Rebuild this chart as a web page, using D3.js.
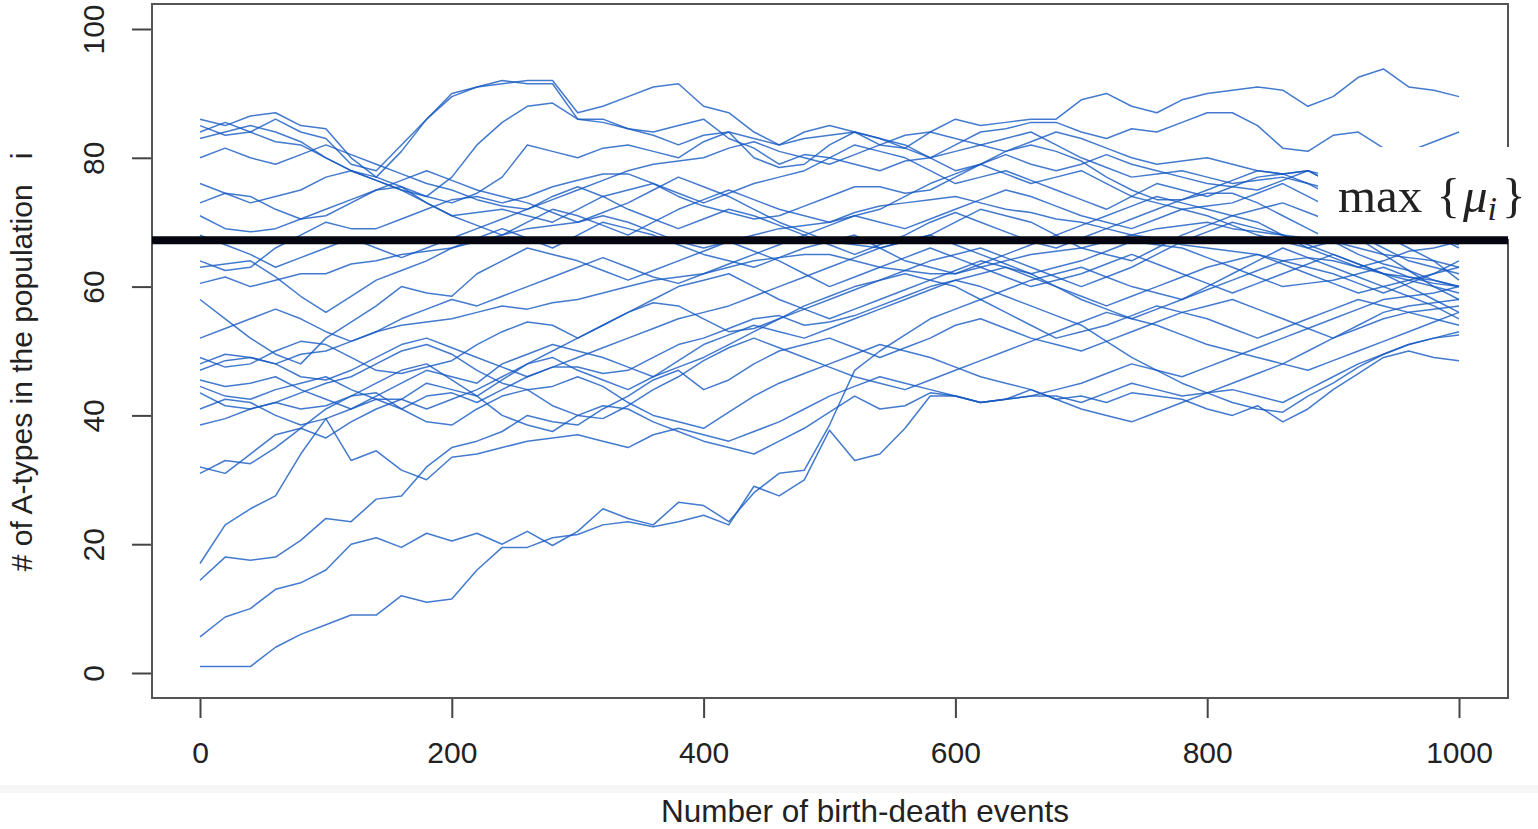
<!DOCTYPE html>
<html>
<head>
<meta charset="utf-8">
<script src="https://cdn.jsdelivr.net/npm/d3@7/dist/d3.min.js"></script>
<style>
  html, body { margin: 0; padding: 0; background: #fff; }
  svg { display: block; }
</style>
</head>
<body>
<svg id="chart" width="1538" height="829"></svg>
<script>
// ---------- data ----------
const events = [0,20,40,60,80,100,120,140,160,180,200,220,240,260,280,300,320,340,360,380,400,420,440,460,480,500,520,540,560,580,600,620,640,660,680,700,720,740,760,780,800,820,840,860,880,900,920,940,960,980,1000];

const run01 = [84,85.5,84,86,84,83,79,78,82,86,90,91,91.5,92,92,87,88,89.5,91,91.5,88,87,84,82,83,83.5,84,82,81.5,84,86,85,85.5,86,86,89,90,88,87,89,90,90.5,91,90.5,88,89.5,92.5,93.8,91,90.5,89.5];
const run02 = [85,83.5,84,82.5,82,80,78,77,81,86,89.5,91,92,91.5,91.5,86,85.5,84.5,84,85,86,83,81.5,79,80.5,80,79,78,79.5,80,82,84,84.5,85.5,85.5,84,83,84.5,84,85.5,87,87,85,81.5,81,83.5,84,81.5,81,82.5,84];
const run03 = [86,85,86.5,87,85,84.5,80,77,75.5,74,77,82,85.5,88,88.5,86,86,84.5,83.5,82,83.5,84,80,78.5,79,82,84,83,82,80,78,79,80.5,79,78,79,80.5,79,78,77,76,75.5,75,76.5,78,76,74,73,72,71,70];
const run04 = [83,84,85,84,82.5,80,78,76.5,75,74,73,74.5,77,82,81,80,81.5,82,81,80,82.5,84,83,82,84,85,84,83,81.5,80,81,82,83,84,82,80,78.5,77,77.5,78,77,76,76.5,77,76,75,74,73,71.5,70,68];
const run05 = [76,74.5,73,74,75,77,78,76.5,75,73,71,71.5,72,71,70,72,74,75,76,74.5,73,74.5,76,77,78,80,82,81,80,78,76,77,78,76.5,75,73.5,72,74,76,75,74,75.5,77,77.5,78,76,74,72,70,68,66];
const run06 = [73,74.5,74,72,70.5,71,73,75,75.5,73,71,69.5,68,70,72,71,69.5,68,70,72,73.5,75,73.5,72,71,70,71,72,74,76,77.5,79,77.5,76,77,78,76,74,73,72,72.5,73,74.5,76,74,72,70,68,66,64,61];
const run07 = [71,69,68.5,69,70.5,72,73.5,75,76.5,78,76.5,75,74,73,71.5,70,71.5,73,75,77,75.5,74,72,70,68.5,67,66.5,66,67,68,70,72,71,70,68,66,65,64,66,68,69.5,71,72,73,71.5,70,67.5,65,62.5,60,58];
const run08 = [64,62.5,63,66,68,70,69,69,70.5,72,73.5,74,73,74,75.5,76.5,77.5,77.5,76,74,72.5,71.5,70.5,71,72.5,74,75.5,75.5,74.5,75,77,79,81,82,81,79.5,77,75,73.5,73.5,74.5,74.5,73,71,69,67,65,63.5,62.5,61,60];
const run09 = [63,63.5,64,61.5,58.5,56,58.5,61,62.5,64,66,67.5,69,67.5,66,68,70,69,68,66.5,65,64,63,64.5,66,67,68,66,64,63,62,63.5,65,66.5,68,69.5,71,72.5,74,73,72,71,70,68,66,67,68,66,64,63,62];
const run10 = [58,55,52,49.5,48,52,54.5,57,60,59,58.5,62,64,66,65,64,62.5,61,62.5,64,65.5,67,65.5,64,62,60,61.5,63,64.5,66,64.5,63,61.5,60,61,62,63.5,65,63.5,62,60.5,59,60.5,62,63.5,65,63.5,62,60,58,56];
const run11 = [49,47.5,48,50,51.5,51,49,47,46.5,47.5,48.5,51,53,54.5,54,52,54,56,58,60,61,62,60,58,56.5,55,56.5,58,59.5,61,62.5,64,63,62,60,58,56.5,55,56.5,58,60,62,64,66,64.5,63,61.5,60,58.5,57,55];
const run12 = [45.5,44.5,45,46,44,42.5,41,43,45,47,46,45,48,49.5,51,50,49,47.5,46,47.5,49,51,53,55,57,58.5,60,61,62,61,60,58,56,54,52,53,54,55.5,57,56,55,53.5,52,53.5,55,56.5,58,57,56,55,54];
const run13 = [48,49.5,49,48,46,45.5,47,49,51,52,50.5,49,47.5,46,47.5,49,50.5,52,53.5,55,56,57,58.5,60,61.5,63,64.5,66,67,68,66.5,65,63.5,62,63,64,65.5,67,66.5,66,64.5,63,61.5,60,60.5,61,62,63,61.5,60.5,60];
const run14 = [44.5,43,42.5,44,45,46,44,42.5,41,43,43.5,42,44,46,47.5,47.5,46.5,47,49,51,52,53.5,55,55.5,54,54.5,55.5,57,58.5,60,61,60,58.5,57,55.5,54,51.5,49,47,45,43.5,42,41,40.5,43,45,47.5,49.5,51,52,52.5];
const run15 = [43.5,41.5,41,42,43.5,45,46,48,50,51,49.5,47,45,44,44.5,46,44.5,42,40,39,38,40.5,43,45,46.5,48,49.5,51,50,49,47.5,46,45,44,42.5,41,40,39,40.5,42,43.5,45,46.5,48,50,52,54,56,57,57.5,58];
const run16 = [41,42.5,42,40,38.5,39.5,41,42.5,42.5,41,42.5,44,46,48,50,52,54,56,57.5,57,55,53,53.5,55,56.5,58,59.5,61,62.5,64,65,66,64.5,63,61.5,60,61.5,63,65,67,68.5,70,69,68,66.5,65,63.5,62,61,60,59];
const run17 = [38.5,39.5,41,42,41,41.5,43,45,47,48,45.5,43,40,38.5,37.5,40,41.5,41,39,37.5,36,35,34,36,38,40.5,43,41,41.5,43.5,43,42,42.5,43,43,42,43.5,45,44,43,43.5,44,43,42,44,46,48,49.5,51,52,53];
const run18 = [32,31,34,37,38,36.5,39,41,42.5,45,44,43,45.5,48,49,47,45.5,44,46,48.5,51,52.5,54,53,52,53.5,55,56.5,58,59.5,61,62,63,61.5,60,58.5,57,58.5,60,61.5,63,64,65,63.5,62,60.5,59,60,61,62,63];
const run19 = [31,33,32.5,35,38,41,43,43.5,41,39,38.5,41,43,44,41.5,40,39.5,41.5,44,46,48.5,50.5,52,50.5,49,47.5,46,45,44,45.5,47,48.5,50,51.5,53,54.5,56,55,54,52.5,51,50,49,48,47,48.5,50,51.5,53,54.5,56];
const run20 = [17,23,25.5,27.5,34,39.5,33,34.5,31.5,30,33.5,34,35,36,36.5,37,36,35,37,38,37,36,37.5,39,41,43,44.5,46,45,44,43,42,42.5,43,44,45,46.5,48,47,46,47.5,49,50.5,52,53.5,55,56.5,58,58.5,59,60];
const run21 = [14.4,18,17.5,18,20.6,24,23.5,27,27.5,32,35,36,37.5,40,39,38.5,41,43,45.5,47,44,45.5,48,50,51,52,50.5,49,50.5,52,54,55,53.5,52,51,50,51.5,53,54.5,56,57,58,56.5,55,53.5,52,53.5,55,56,56.5,57];
const run22 = [5.6,8.7,10,13,14,16,20,21,19.5,21.7,20.5,21.7,20,22,19.8,22,25.5,24,23,26.5,26,23.5,28,31,31.5,38.5,47,50,52.5,55,56.5,58,59.5,61,62,63,61.5,60,59,58,59.5,61,62.5,64,63,62,60.5,59,60.5,62,64];
const run23 = [1,1,1,4,6,7.5,9,9,12,11,11.5,16,19.5,19.5,21,21.5,23,23.5,22.7,23.5,24.5,23,29,27.5,30,37.7,33,34,38,43,43,42,42.5,44,42.5,43,42,43.5,43,42.5,41,40,41.5,39,41,44,46.5,49,50,49,48.5];
const run24 = [68,66.5,65,63,64.5,66,67.5,66,64.5,66,67.5,69,70.5,72,74,75.5,74,72,70.5,69,70.5,72,71,69.5,68,66.5,65,66.5,68,70,71.5,70,68.5,67,66,67.5,69,70.5,72,73.5,75,76.5,78,77.5,76,74,72,70,68.5,67.5,66.5];
const run25 = [52,53.5,55,56.5,55,53,51.5,53,55,56.5,58,57,58.5,60,61.5,63,64.5,63,61.5,60.5,62,63.5,65,66.5,68,69.5,71,70,69,70.5,72,73.5,75,74,72.5,71,70,69,70.5,72,71,69.5,68,67,66,64.5,63,64,65.5,66,67];
const run26 = [80,81.5,80,79,80.5,82,80.5,79,77.5,76,75,73.5,72.5,72,73.5,75,76.5,78,79,79.5,80,81.5,82.5,81,80,79,80.5,82,83.5,84,83,82,81,82.5,84,83,81.5,80,79,79.5,80,79,78,77.5,78,77,76,75,74,73,72];
const run27 = [60.5,61.5,60,61,62,62,63.5,64,65,65.5,66,67,68,69,69.5,70,71,70,68.5,67,66,67,68,69,69.5,70,71.5,72.5,73,73.5,74,73,72,71.5,70.5,70,69,68,67.5,66.5,66,65.5,65,64,64.5,64,63,62,61.5,61,60];
const run28 = [47,48.5,49,48,49.5,50,51.5,53,54,54.5,55,56,57,56.5,57.5,58,59,60,61,61.5,62,63,64,64.5,65,65,64,63,62.5,62,62,63,64,65,65.5,66,67,68,69,69.5,70,69,68.5,68,67.5,67,66,65,64.5,64,63];

const runs = [run01,run02,run03,run04,run05,run06,run07,run08,run09,run10,run11,run12,run13,run14,
              run15,run16,run17,run18,run19,run20,run21,run22,run23,run24,run25,run26,run27,run28];

const xTicks = [0, 200, 400, 600, 800, 1000];
const yTicks = [0, 20, 40, 60, 80, 100];
const maxMu = 67.2;
const xTitle = "Number of birth-death events";
const yTitle = "# of A-types in the population   i";

// ---------- layout ----------
const svg = d3.select("#chart");
const frame = {left: 152, top: 4, right: 1508, bottom: 698};
const x = d3.scaleLinear().domain([0, 1000]).range([200, 1459]);
const y = d3.scaleLinear().domain([0, 100]).range([673, 29]);

// faint strip near the bottom
svg.append("rect").attr("x", 0).attr("y", 785).attr("width", 1538).attr("height", 8).attr("fill", "#f6f6f6");

// axes
const xAxis = d3.axisBottom(x).tickValues(xTicks).tickSize(20).tickPadding(24).tickFormat(d3.format("d"));
const gx = svg.append("g").attr("transform", `translate(0,${frame.bottom})`).call(xAxis);
gx.select(".domain").remove();
gx.selectAll(".tick line").attr("stroke", "#444").attr("stroke-width", 2);
gx.selectAll(".tick text").attr("font-family", "Liberation Sans, Arial, sans-serif").attr("font-size", 30).attr("fill", "#222");

const yAxis = d3.axisLeft(y).tickValues(yTicks).tickSize(20).tickFormat(d3.format("d"));
const gy = svg.append("g").attr("transform", `translate(${frame.left},0)`).call(yAxis);
gy.select(".domain").remove();
gy.selectAll(".tick line").attr("stroke", "#444").attr("stroke-width", 2);
gy.selectAll(".tick text")
  .attr("font-family", "Liberation Sans, Arial, sans-serif").attr("font-size", 30).attr("fill", "#222")
  .attr("x", null).attr("dy", null)
  .attr("text-anchor", "middle").attr("dominant-baseline", "central")
  .attr("transform", "translate(-59,0) rotate(-90)");

// frame
svg.append("rect")
  .attr("x", frame.left).attr("y", frame.top)
  .attr("width", frame.right - frame.left).attr("height", frame.bottom - frame.top)
  .attr("fill", "none").attr("stroke", "#555").attr("stroke-width", 2);

// runs
const line = d3.line().x((d, i) => x(events[i])).y(d => y(d));
svg.append("g").selectAll("path").data(runs).join("path")
  .attr("d", line)
  .attr("fill", "none")
  .attr("stroke", "#1459c2")
  .attr("stroke-opacity", 0.8)
  .attr("stroke-width", 1.5)
  .attr("stroke-linejoin", "round");

// label box
svg.append("rect").attr("x", 1318).attr("y", 147).attr("width", 220).attr("height", 92).attr("fill", "#fff");

// max line
svg.append("line")
  .attr("x1", frame.left).attr("x2", frame.right)
  .attr("y1", y(maxMu)).attr("y2", y(maxMu))
  .attr("stroke", "#05050f").attr("stroke-width", 8);

// label text
const lab = svg.append("text")
  .attr("x", 1338).attr("y", 212)
  .attr("font-family", "Liberation Serif, DejaVu Serif, serif")
  .attr("font-size", 49).attr("fill", "#222");
lab.append("tspan").text("max");
lab.append("tspan").attr("dx", 14).text("{");
lab.append("tspan").attr("dx", 3).attr("font-style", "italic").text("μ");
lab.append("tspan").attr("font-style", "italic").attr("font-size", 34).attr("dy", 8).text("i");
lab.append("tspan").attr("dx", 5).attr("dy", -8).text("}");

// titles
svg.append("text")
  .attr("x", 865).attr("y", 822).attr("text-anchor", "middle")
  .attr("font-family", "Liberation Sans, Arial, sans-serif").attr("font-size", 31.5).attr("fill", "#222")
  .text(xTitle);
svg.append("text")
  .attr("transform", "translate(32,362) rotate(-90)").attr("text-anchor", "middle")
  .attr("font-family", "Liberation Sans, Arial, sans-serif").attr("font-size", 30).attr("fill", "#222")
  .attr("xml:space", "preserve").style("white-space", "pre")
  .text(yTitle);
</script>
</body>
</html>
